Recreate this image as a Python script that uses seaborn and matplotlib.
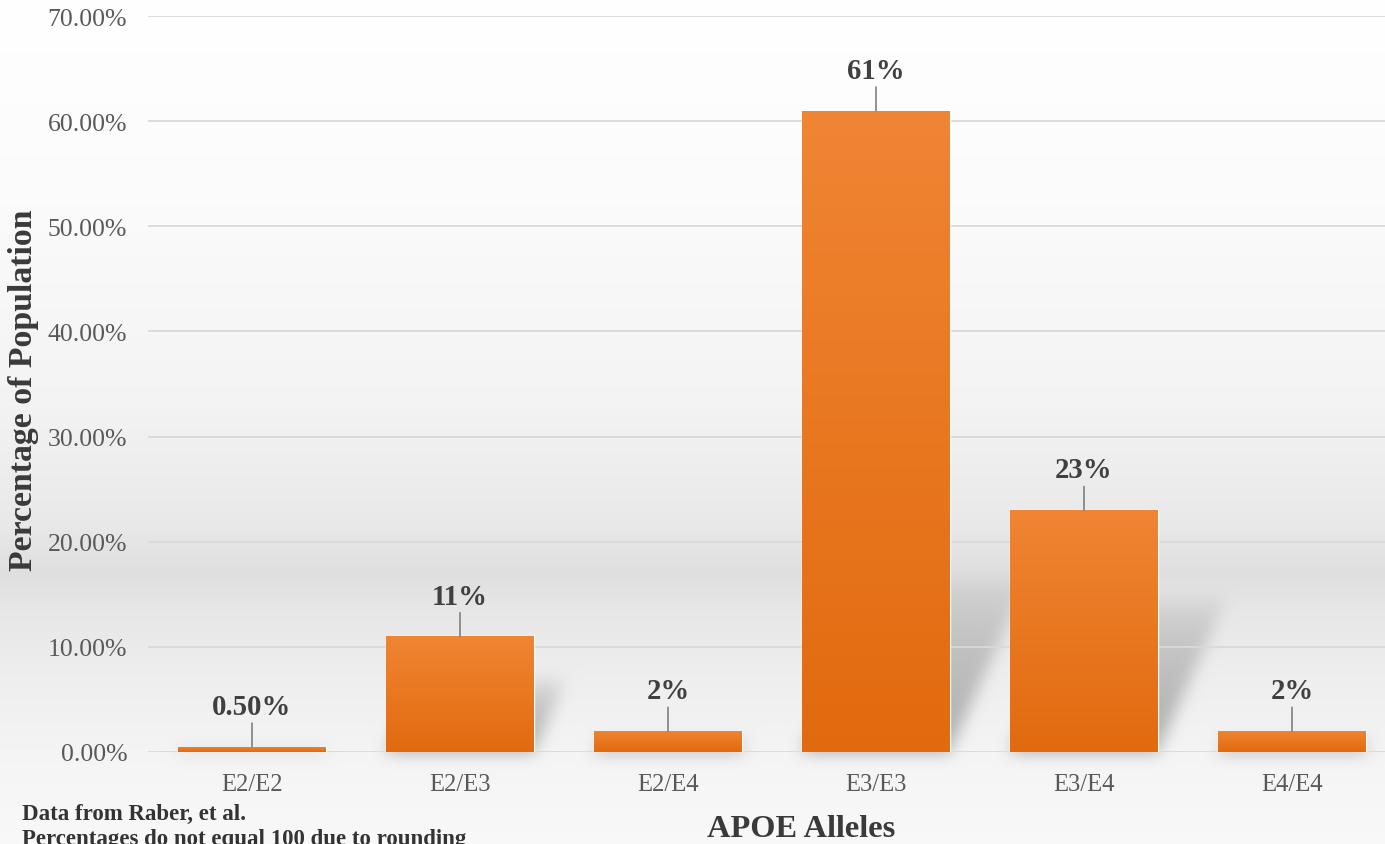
import numpy as np
import matplotlib
matplotlib.use("Agg")
import matplotlib.pyplot as plt
import seaborn as sns

# APOE genotype frequencies (percent of population)
alleles = ["E2/E2", "E2/E3", "E2/E4", "E3/E3", "E3/E4", "E4/E4"]
percent = [0.5, 11, 2, 61, 23, 2]
value_labels = ["0.50%", "11%", "2%", "61%", "23%", "2%"]
y_ticks = [0, 10, 20, 30, 40, 50, 60, 70]

W, H, DPI = 1385, 845, 100
SERIF = ["Liberation Serif", "DejaVu Serif"]

sns.set_theme(style="white")
plt.rcParams["font.family"] = SERIF

fig = plt.figure(figsize=(W / DPI, H / DPI), dpi=DPI)

# main plotting area (extends slightly past the right edge)
ax_left, ax_right = 148, 1396
ax_top, ax_bottom = 17, 753
ax = fig.add_axes([ax_left / W, (H - ax_bottom) / H,
                   (ax_right - ax_left) / W, (ax_bottom - ax_top) / H], zorder=2)
ax.set_facecolor("none")

sns.barplot(x=alleles, y=percent, color="#EA7A24", width=0.71, ax=ax,
            saturation=1, zorder=3)
ax.set_xlim(-0.5, len(alleles) - 0.5)
ax.set_ylim(0, 70)

# bar gradient fill
grad = np.linspace(0, 1, 256).reshape(-1, 1)
top_c = np.array([240, 133, 52]) / 255
bot_c = np.array([226, 106, 14]) / 255
grad_rgb = top_c * (1 - grad[..., None]) + bot_c * grad[..., None]
grad_rgb = grad_rgb.reshape(256, 1, 3)
for p in ax.patches:
    x0, w, h = p.get_x(), p.get_width(), p.get_height()
    im = ax.imshow(grad_rgb, extent=[x0, x0 + w, 0, h], aspect="auto",
                   zorder=3.5, interpolation="bilinear")
    im.set_clip_path(p)
ax.set_xlim(-0.5, len(alleles) - 0.5)
ax.set_ylim(0, 70)

# grid and axes styling
ax.set_yticks(y_ticks)
ax.set_yticklabels([f"{t:.2f}%" for t in y_ticks])
ax.yaxis.grid(True, color="#d9d9d9", linewidth=1.3, zorder=0)
ax.set_axisbelow(True)
for s in ax.spines.values():
    s.set_visible(False)
ax.tick_params(axis="y", length=0, pad=15, labelsize=18.5, labelcolor="#595959")
ax.tick_params(axis="x", length=0, pad=15, labelsize=17.7, labelcolor="#595959")
ax.set_xlabel("")
ax.set_ylabel("")

# value labels with leader lines
for i, (v, lab) in enumerate(zip(percent, value_labels)):
    ax.annotate("", xy=(i, v), xytext=(0, 17), textcoords="offset points",
                arrowprops=dict(arrowstyle="-", color="#808080", lw=1.2,
                                shrinkA=0, shrinkB=0), zorder=4)
    ax.annotate(lab, xy=(i, v), xytext=(0, 29), textcoords="offset points",
                ha="center", va="center", fontsize=20.7, fontweight="bold",
                color="#404040", zorder=5)

# background: vertical gray gradient with soft bar shadows
rows = np.arange(H)
stops_y = [0, 200, 400, 520, 575, 610, 680, 760, 845]
stops_v = [1.00, 0.985, 0.955, 0.915, 0.875, 0.905, 0.935, 0.96, 0.975]
col = np.interp(rows, stops_y, stops_v)
bg = np.repeat(col[:, None], W, axis=1)

shadow = np.zeros((H, W))
k = 0.45
for p in ax.patches:
    (px0, py0), (px1, py1) = ax.transData.transform(
        [(p.get_x(), 0), (p.get_x() + p.get_width(), p.get_height())])
    base = H - py0
    hpx = py1 - py0
    hs = min(0.65 * hpx, 175)
    for r in range(int(hs)):
        yy = int(round(base - r))
        if 0 <= yy < H:
            xa = int(px0 + r * k)
            xb = int(px1 + r * k)
            shadow[yy, max(xa, 0):min(xb, W)] = (1 - r / hs) ** 0.5


def box_blur(a, rad, axis):
    c = np.cumsum(np.pad(a, [(rad + 1, rad) if i == axis else (0, 0)
                             for i in range(2)], mode="edge"), axis=axis)
    n = a.shape[axis]
    hi = np.take(c, np.arange(2 * rad + 1, 2 * rad + 1 + n), axis=axis)
    lo = np.take(c, np.arange(0, n), axis=axis)
    return (hi - lo) / (2 * rad + 1)


for _ in range(3):
    shadow = box_blur(shadow, 7, 0)
    shadow = box_blur(shadow, 7, 1)
bg = bg * (1 - 0.28 * shadow)
bg_img = np.dstack([bg, bg, bg])

bg_ax = fig.add_axes([0, 0, 1, 1], zorder=0)
bg_ax.imshow(bg_img, extent=[0, 1, 0, 1], aspect="auto", interpolation="bilinear")
bg_ax.axis("off")

# titles and notes
fig.text(24 / W, 1 - 390 / H, "Percentage of Population", rotation=90,
         ha="center", va="center", fontsize=24.3, fontweight="bold",
         color="#3a3a3a", zorder=3)
fig.text(801 / W, 1 - 830 / H, "APOE Alleles", ha="center", va="center",
         fontsize=23.3, fontweight="bold", color="#3a3a3a", zorder=3)
fig.text(22 / W, 1 - 814 / H, "Data from Raber, et al.", ha="left", va="center",
         fontsize=16.5, fontweight="bold", color="#333333", zorder=3)
fig.text(22 / W, 1 - 840 / H, "Percentages do not equal 100 due to rounding",
         ha="left", va="center", fontsize=16.5, fontweight="bold",
         color="#333333", zorder=3)

fig.savefig("out.png", dpi=DPI)
